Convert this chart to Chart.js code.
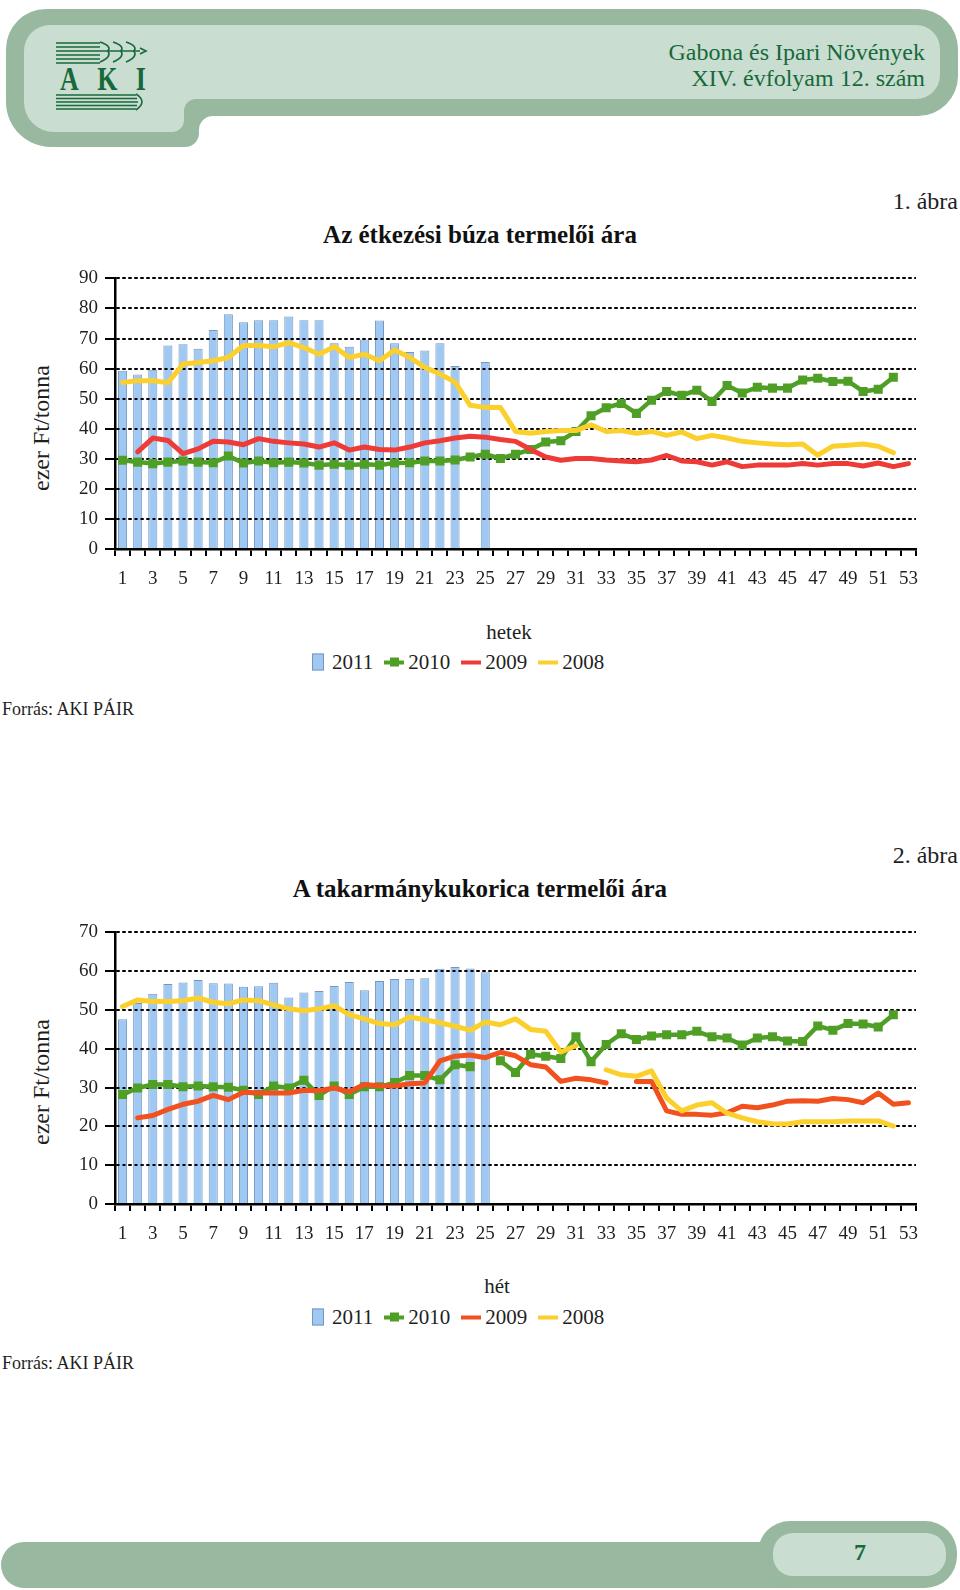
<!DOCTYPE html>
<html lang="hu">
<head>
<meta charset="utf-8">
<title>Gabona és Ipari Növények – XIV. évfolyam 12. szám</title>
<script src="https://cdn.jsdelivr.net/npm/chart.js@4.4.1/dist/chart.umd.min.js"></script>
<style>
  html, body { margin: 0; padding: 0; background: #fff; }
  body {
    width: 960px; height: 1590px; position: relative; overflow: hidden;
    font-family: "Liberation Serif", "DejaVu Serif", serif; color: #1f1f1f;
  }
  .abs { position: absolute; white-space: nowrap; line-height: 1; }
  .center { transform: translate(-50%, -50%); }
  .right { transform: translate(-100%, -50%); }
  .left { transform: translateY(-50%); }
  .vtitle { transform: translate(-50%, -50%) rotate(-90deg); font-size: 24px; }
  .title { font-weight: bold; font-size: 25px; color: #111; }
  .fig { font-size: 24px; }
  .axis-name { font-size: 21px; }
  .source { font-size: 18px; }
  .masthead { color: #17693b; font-size: 24px; text-align: right; }
  canvas { position: absolute; left: 0; }
  .legend { position: absolute; display: flex; align-items: center; font-size: 21px; transform: translateY(-50%); }
  .legend .item { display: flex; align-items: center; margin-right: 11px; }
  .legend .box { width: 10px; height: 15px; border: 1px solid; margin-right: 8px; }
  .legend .ln { width: 20px; height: 4px; margin-right: 4px; position: relative; }
  .legend .sq { position: absolute; width: 9px; height: 9px; left: 5.5px; top: -2.5px; }
</style>
</head>
<body>

<!-- page header -->
<svg class="abs" style="left:0;top:0" width="960" height="160">
  <path d="M46 9 H918 A40 40 0 0 1 958 49 V76 A40 40 0 0 1 918 116 H213 A14 14 0 0 0 199 130 V133 A14 14 0 0 1 185 147 H51 A45 45 0 0 1 6 102 V49 A40 40 0 0 1 46 9 Z" fill="#98b89f"/>
  <path d="M50 25 H916 A24 24 0 0 1 940 49 V75 A24 24 0 0 1 916 99 H196 A12 12 0 0 0 184 111 V120 A12 12 0 0 1 172 132 H54 A30 30 0 0 1 24 102 V51 A26 26 0 0 1 50 25 Z" fill="#c9ddd0"/>
  <g stroke="#17693b" stroke-width="1.6" fill="none">
    <path d="M56 43 H100 M56 47 H100 M56 51 H140 M56 55 H100 M56 59 H100 M56 63 H100"/>
    <path d="M100 42 Q112 46 108 51 Q112 57 100 62"/>
    <path d="M113 42 Q125 46 121 51 Q125 57 113 62"/>
    <path d="M126 42 Q138 46 134 51 Q138 57 126 62"/>
    <path d="M140 48 L146 51 L140 54"/>
    <path d="M56 95 H136 M56 98.5 H137 M56 102 H138 M56 105.5 H137 M56 109 H136"/>
    <path d="M136 94 Q148 101.5 136 110"/>
  </g>
  <text x="60" y="90" fill="#17693b" font-family="Liberation Serif, serif" font-weight="bold" font-size="26" transform="translate(0 -27) scale(1 1.3)" textLength="86" lengthAdjust="spacing">AKI</text>
</svg>
<div class="abs masthead right" style="left:925px;top:52px">Gabona és Ipari Növények</div>
<div class="abs masthead right" style="left:925px;top:78px">XIV. évfolyam 12. szám</div>

<!-- figure 1 -->
<div class="abs fig right" style="left:958px;top:201px">1. ábra</div>
<div class="abs title center" style="left:480px;top:234px">Az étkezési búza termelői ára</div>
<div class="abs vtitle" style="left:41px;top:428px">ezer Ft/tonna</div>
<canvas id="wheatChart" width="960" height="330" style="top:260px"></canvas>
<div class="abs axis-name center" style="left:509px;top:632px">hetek</div>
<div class="legend" id="wheatLegend" style="left:312px;top:662px"></div>
<div class="abs source left" style="left:2px;top:709px">Forrás: AKI PÁIR</div>

<!-- figure 2 -->
<div class="abs fig right" style="left:958px;top:855px">2. ábra</div>
<div class="abs title center" style="left:480px;top:888px">A takarmánykukorica termelői ára</div>
<div class="abs vtitle" style="left:41px;top:1082px">ezer Ft/tonna</div>
<canvas id="cornChart" width="960" height="331" style="top:914px"></canvas>
<div class="abs axis-name center" style="left:497px;top:1286px">hét</div>
<div class="legend" id="cornLegend" style="left:312px;top:1317px"></div>
<div class="abs source left" style="left:2px;top:1363px">Forrás: AKI PÁIR</div>

<!-- page footer -->
<svg class="abs" style="left:0;top:1510px" width="960" height="80">
  <path d="M24 32 H800 V78 H24 A23 23 0 0 1 24 32 Z" fill="#98b89f"/>
  <rect x="758" y="11" width="199" height="67" rx="32" fill="#98b89f"/>
  <rect x="773" y="23" width="173" height="43" rx="20" fill="#c9ddd0"/>
</svg>
<div class="abs center" style="left:860px;top:1552px;font-size:24px;font-weight:bold;color:#17693b">7</div>

<script>
// weeks of the year (categories) and the labels shown under the axis
const weeks = ['1','2','3','4','5','6','7','8','9','10','11','12','13','14','15','16','17','18',
  '19','20','21','22','23','24','25','26','27','28','29','30','31','32','33','34','35','36',
  '37','38','39','40','41','42','43','44','45','46','47','48','49','50','51','52','53'];
const tickLabels = ['1','3','5','7','9','11','13','15','17','19','21','23','25','27','29','31',
  '33','35','37','39','41','43','45','47','49','51','53'];
const seriesNames = ['2011', '2010', '2009', '2008'];

// Az étkezési búza termelői ára (ezer Ft/tonna)
const wheat2011 = [59.3, 58.0, 59.6, 67.7, 68.1, 66.6, 72.8, 78.1, 75.4, 76.1, 76.1, 77.3, 76.1,
  76.1, 68.4, 67.3, 69.7, 76.0, 68.4, 65.5, 66.0, 68.4, 60.9, null, 62.2];
const wheat2010 = [29.5, 28.9, 28.4, 28.9, 29.3, 28.9, 28.7, 30.9, 28.6, 29.3, 28.7, 28.9, 28.6,
  27.9, 28.2, 27.9, 28.2, 27.9, 28.6, 28.7, 29.3, 29.3, 29.6, 30.6, 31.5, 30.1, 31.5, 33.1, 35.6,
  36.0, 39.1, 44.3, 47.0, 48.4, 45.1, 49.5, 52.4, 51.1, 52.8, 49.1, 54.4, 51.9, 53.8, 53.5, 53.5,
  56.2, 56.8, 55.7, 55.8, 52.4, 53.1, 57.1];
const wheat2009 = [null, 32.3, 36.9, 36.1, 31.7, 33.3, 35.8, 35.6, 34.7, 36.7, 35.8, 35.3, 34.9,
  33.9, 35.3, 32.9, 33.9, 33.1, 32.9, 33.9, 35.3, 36.0, 36.9, 37.5, 37.2, 36.4, 35.8, 33.1, 30.6,
  29.5, 30.1, 30.1, 29.6, 29.3, 29.0, 29.6, 31.1, 29.3, 29.0, 27.9, 29.0, 27.4, 27.9, 27.9, 27.9,
  28.4, 27.9, 28.4, 28.4, 27.6, 28.6, 27.4, 28.4];
const wheat2008 = [55.4, 56.0, 56.0, 55.3, 61.5, 62.0, 62.6, 63.7, 67.7, 67.7, 67.3, 68.6, 67.0,
  64.8, 67.3, 63.7, 64.8, 62.6, 66.2, 63.7, 60.4, 58.2, 55.5, 47.8, 47.1, 47.1, 39.1, 38.5, 39.1,
  39.4, 39.4, 41.3, 39.1, 39.4, 38.5, 39.1, 37.8, 38.9, 36.7, 37.8, 36.9, 35.8, 35.3, 34.9, 34.7,
  34.9, 31.2, 34.2, 34.5, 34.9, 34.2, 32.0];

// A takarmánykukorica termelői ára (ezer Ft/tonna)
const corn2011 = [47.6, 51.8, 54.2, 56.7, 57.1, 57.7, 56.9, 56.8, 56.0, 56.1, 57.0, 53.2, 54.5,
  54.9, 56.2, 57.2, 55.1, 57.5, 58.0, 58.0, 58.2, 60.6, 61.1, 60.7, 59.7];
const corn2010 = [28.2, 29.9, 30.8, 30.8, 30.2, 30.4, 30.2, 30.1, 29.3, 28.2, 30.4, 29.9, 31.9,
  28.0, 30.4, 28.2, 30.2, 30.2, 31.3, 33.1, 33.1, 32.0, 35.9, 35.4, null, 36.9, 33.9, 38.6, 38.1,
  37.5, 43.1, 36.7, 41.1, 43.9, 42.4, 43.3, 43.6, 43.6, 44.5, 43.1, 42.8, 41.0, 42.8, 43.1, 42.0,
  41.9, 45.9, 44.8, 46.5, 46.4, 45.6, 48.8];
const corn2009 = [null, 22.2, 22.8, 24.4, 25.7, 26.5, 28.0, 26.9, 28.8, 28.6, 28.6, 28.6, 29.3,
  29.2, 29.9, 28.9, 30.8, 30.5, 30.4, 31.0, 31.2, 36.9, 38.1, 38.4, 37.7, 39.1, 38.2, 35.9, 35.3,
  31.6, 32.4, 32.0, 31.2, null, 31.6, 31.6, 24.0, 23.1, 23.1, 22.9, 23.5, 25.2, 24.8, 25.5, 26.5,
  26.6, 26.5, 27.2, 26.9, 26.1, 28.6, 25.7, 26.1];
const corn2008 = [50.9, 52.6, 52.2, 52.2, 52.4, 53.1, 52.0, 51.6, 52.6, 52.4, 51.3, 50.3, 49.8,
  50.3, 51.1, 48.8, 47.7, 46.5, 46.2, 48.2, 47.5, 46.7, 45.8, 44.8, 46.9, 46.2, 47.7, 45.0, 44.5,
  39.2, 40.8, null, 34.6, 33.3, 32.9, 34.3, 27.3, 24.0, 25.5, 26.1, 23.4, 22.2, 21.2, 20.7, 20.6,
  21.2, 21.2, 21.2, 21.4, 21.4, 21.4, 20.1];

const FONT = '"Liberation Serif", "DejaVu Serif", serif';
const COLORS = {
  bar: '#9fc9f2',
  barEdge: '#7896bd',
  green: '#4f9f27',
  yellow: '#fbd02c'
};

// dotted value grid goes over the bars but under the lines
const gridOverBars = {
  id: 'gridOverBars',
  afterDatasetDraw(chart, args) {
    if (args.meta.type === 'bar') {
      chart.scales.y.drawGrid(chart.chartArea);
    }
  }
};

function buildChart(id, values, yMax, redColor) {
  const [v2011, v2010, v2009, v2008] = values;
  return new Chart(document.getElementById(id), {
    type: 'bar',
    data: {
      labels: weeks,
      datasets: [
        { type: 'line', label: seriesNames[3], data: v2008, borderColor: COLORS.yellow,
          borderWidth: 5, pointRadius: 0, spanGaps: false, order: 1 },
        { type: 'line', label: seriesNames[2], data: v2009, borderColor: redColor,
          borderWidth: 5, pointRadius: 0, spanGaps: false, order: 2 },
        { type: 'line', label: seriesNames[1], data: v2010, borderColor: COLORS.green,
          backgroundColor: COLORS.green, borderWidth: 4.5, pointStyle: 'rect', pointRadius: 6.4,
          pointBorderWidth: 0, spanGaps: false, order: 3 },
        { type: 'bar', label: seriesNames[0], data: v2011, backgroundColor: COLORS.bar,
          borderColor: COLORS.barEdge, borderWidth: 1, barPercentage: 0.6,
          categoryPercentage: 1, order: 4 }
      ]
    },
    options: {
      responsive: false,
      animation: false,
      layout: { padding: { top: 15, right: 44, left: 0, bottom: 0 } },
      plugins: { legend: { display: false }, tooltip: { enabled: false } },
      elements: { line: { tension: 0, borderJoinStyle: 'round', borderCapStyle: 'round' } },
      scales: {
        x: {
          grid: { display: true, offset: true, drawOnChartArea: false, color: '#000',
                  lineWidth: 2, tickLength: 7 },
          border: { color: '#000', width: 2.5 },
          ticks: {
            autoSkip: false, maxRotation: 0, padding: 12, color: '#1f1f1f',
            font: { family: FONT, size: 19 },
            callback: (value, index) => tickLabels.includes(weeks[index]) ? weeks[index] : ''
          },
          afterFit: scale => { scale.height = 41; }
        },
        y: {
          min: 0,
          max: yMax,
          ticks: { stepSize: 10, padding: 7, color: '#1f1f1f', font: { family: FONT, size: 19 } },
          grid: { color: '#000', lineWidth: 2, tickLength: 10, tickColor: '#000', tickWidth: 2 },
          border: { color: '#000', width: 2.5, dash: [3, 3] },
          afterFit: scale => { scale.width = 115; }
        }
      }
    },
    plugins: [gridOverBars]
  });
}

function buildLegend(id, redColor) {
  const legend = document.getElementById(id);
  const markers = [
    `<span class="box" style="background:${COLORS.bar};border-color:${COLORS.barEdge}"></span>`,
    `<span class="ln" style="background:${COLORS.green}"><span class="sq" style="background:${COLORS.green}"></span></span>`,
    `<span class="ln" style="background:${redColor}"></span>`,
    `<span class="ln" style="background:${COLORS.yellow}"></span>`
  ];
  seriesNames.forEach((name, i) => {
    const item = document.createElement('span');
    item.className = 'item';
    item.innerHTML = markers[i] + `<span>${name}</span>`;
    legend.appendChild(item);
  });
}

buildChart('wheatChart', [wheat2011, wheat2010, wheat2009, wheat2008], 90, '#ee3b37');
buildChart('cornChart', [corn2011, corn2010, corn2009, corn2008], 70, '#f1501f');
buildLegend('wheatLegend', '#ee3b37');
buildLegend('cornLegend', '#f1501f');
</script>
</body>
</html>
